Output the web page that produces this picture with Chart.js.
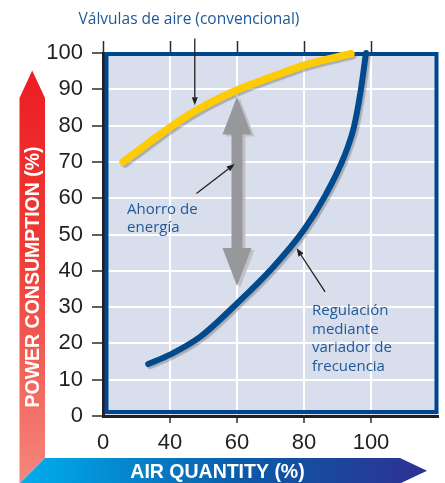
<!DOCTYPE html>
<html>
<head>
<meta charset="utf-8">
<script src="https://cdn.jsdelivr.net/npm/chart.js@4.4.1/dist/chart.umd.min.js"></script>
<style>
  html, body { margin: 0; padding: 0; background: #fff; }
</style>
</head>
<body>
<canvas id="myChart" width="445" height="483"></canvas>
<script>
// conventional air valves (yellow)
const valveAir = [26, 40, 47.5, 60, 70, 80, 94];
const valvePower = [70, 79.5, 84, 89.8, 93.3, 96.6, 99.8];
// frequency drive (blue)
const driveAir = [33.5, 40, 49, 60, 70, 80, 86.5, 92, 95, 97, 98.5];
const drivePower = [14.3, 16.9, 21.8, 31, 40.2, 51.3, 61, 71.5, 80, 90, 100];
// x axis is broken: first position is labelled "0"
const xTickValues = [20, 40, 60, 80, 100, 120];
const xTickLabels = ['0', '40', '60', '80', '100', ''];
const yTicks = [0, 10, 20, 30, 40, 50, 60, 70, 80, 90, 100];

const titleText = 'Válvulas de aire (convencional)';
const savingText = ['Ahorro de', 'energía'];
const driveText = ['Regulación', 'mediante', 'variador de', 'frecuencia'];
const yTitle = 'POWER CONSUMPTION (%)';
const xTitle = 'AIR QUANTITY (%)';

// annotation anchors in data units
const savingArrow = { x: 60, top: 88, bottom: 35.8 };
const pointerArrows = [
  [47.4, 104, 47.4, 85.6],
  [47.9, 61.3, 59.3, 69.4],
  [86.3, 34.2, 77.8, 46.2]
];
const savingTextAt = [27.2, 55.6];
const driveTextAt = [82.4, 27.8];

const textBlue = '#1f5899';

function toPts(xs, ys) {
  return xs.map((x, i) => ({ x: x, y: ys[i] }));
}

function arrowLine(ctx, x1, y1, x2, y2) {
  const ang = Math.atan2(y2 - y1, x2 - x1);
  const hl = 8, hw = 3;
  ctx.beginPath();
  ctx.moveTo(x1, y1);
  ctx.lineTo(x2 - Math.cos(ang) * hl, y2 - Math.sin(ang) * hl);
  ctx.stroke();
  ctx.beginPath();
  ctx.moveTo(x2, y2);
  ctx.lineTo(x2 - Math.cos(ang) * hl - Math.sin(ang) * hw, y2 - Math.sin(ang) * hl + Math.cos(ang) * hw);
  ctx.lineTo(x2 - Math.cos(ang) * hl + Math.sin(ang) * hw, y2 - Math.sin(ang) * hl - Math.cos(ang) * hw);
  ctx.closePath();
  ctx.fill();
}

const decor = {
  id: 'decor',
  beforeDraw(chart) {
    const a = chart.chartArea, ctx = chart.ctx;
    ctx.save();
    ctx.fillStyle = '#d8deeb';
    ctx.fillRect(a.left, a.top, a.right - a.left, a.bottom - a.top);
    ctx.restore();
  },
  beforeDatasetsDraw(chart) {
    const a = chart.chartArea, ctx = chart.ctx;
    ctx.save();
    ctx.strokeStyle = '#00468c';
    ctx.lineWidth = 4;
    ctx.strokeRect(a.left + 3.5, a.top + 1, a.right - a.left - 5, a.bottom - a.top - 5);
    ctx.restore();
  },
  beforeDatasetDraw(chart) {
    const ctx = chart.ctx;
    ctx.save();
    ctx.shadowColor = 'rgba(80,80,80,0.35)';
    ctx.shadowOffsetX = 2;
    ctx.shadowOffsetY = 2;
    ctx.shadowBlur = 1;
  },
  afterDatasetDraw(chart) {
    chart.ctx.restore();
  },
  afterDraw(chart) {
    const ctx = chart.ctx;
    const xs = chart.scales.x, ys = chart.scales.y;
    const px = v => xs.getPixelForValue(v);
    const py = v => ys.getPixelForValue(v);
    ctx.save();

    // grey double arrow (energy saving)
    const cx = px(savingArrow.x), t = py(savingArrow.top), b = py(savingArrow.bottom);
    const hl = 38, hw = 14.5, sw = 5.5;
    ctx.save();
    ctx.shadowColor = 'rgba(190,190,192,0.9)';
    ctx.shadowOffsetX = 3;
    ctx.shadowOffsetY = 2;
    ctx.fillStyle = '#97989c';
    ctx.beginPath();
    ctx.moveTo(cx, t);
    ctx.lineTo(cx + hw, t + hl);
    ctx.lineTo(cx + sw, t + hl);
    ctx.lineTo(cx + sw, b - hl);
    ctx.lineTo(cx + hw, b - hl);
    ctx.lineTo(cx, b);
    ctx.lineTo(cx - hw, b - hl);
    ctx.lineTo(cx - sw, b - hl);
    ctx.lineTo(cx - sw, t + hl);
    ctx.lineTo(cx - hw, t + hl);
    ctx.closePath();
    ctx.fill();
    ctx.restore();

    // thin pointer arrows
    ctx.strokeStyle = '#231f20';
    ctx.fillStyle = '#231f20';
    ctx.lineWidth = 1.3;
    pointerArrows.forEach(p => arrowLine(ctx, px(p[0]), py(p[1]), px(p[2]), py(p[3])));

    // texts
    ctx.fillStyle = textBlue;
    ctx.font = '15px "Open Sans"';
    ctx.textAlign = 'left';
    ctx.textBaseline = 'alphabetic';
    savingText.forEach((s, i) => ctx.fillText(s, px(savingTextAt[0]), py(savingTextAt[1]) + i * 18));
    driveText.forEach((s, i) => ctx.fillText(s, px(driveTextAt[0]), py(driveTextAt[1]) + i * 18.5));
    ctx.textAlign = 'center';
    ctx.font = '15.5px "Open Sans"';
    ctx.fillText(titleText, 189, 24);

    // red vertical axis arrow
    let g = ctx.createLinearGradient(0, 70, 0, 483);
    g.addColorStop(0, '#ed1c24');
    g.addColorStop(0.45, '#ef3e36');
    g.addColorStop(1, '#f4877d');
    ctx.fillStyle = g;
    ctx.beginPath();
    ctx.moveTo(19.5, 98);
    ctx.lineTo(32.2, 70.5);
    ctx.lineTo(45, 98);
    ctx.lineTo(45, 458);
    ctx.lineTo(19.5, 483.5);
    ctx.closePath();
    ctx.fill();

    // blue horizontal axis arrow
    g = ctx.createLinearGradient(20, 0, 427, 0);
    g.addColorStop(0, '#00aeef');
    g.addColorStop(0.55, '#0b5aa8');
    g.addColorStop(1, '#2e3192');
    ctx.fillStyle = g;
    ctx.beginPath();
    ctx.moveTo(19.5, 483.5);
    ctx.lineTo(45, 458);
    ctx.lineTo(400, 458);
    ctx.lineTo(427, 470.7);
    ctx.lineTo(400, 483.5);
    ctx.closePath();
    ctx.fill();

    // axis titles
    ctx.fillStyle = '#ffffff';
    ctx.font = 'bold 19.5px "Liberation Sans"';
    ctx.textAlign = 'center';
    ctx.textBaseline = 'middle';
    ctx.fillText(xTitle, 217.5, 472.5);
    ctx.save();
    ctx.translate(33, 277);
    ctx.rotate(-Math.PI / 2);
    ctx.fillText(yTitle, 0, 1);
    ctx.restore();

    ctx.restore();
  }
};

const hideEnds = c => (c.tick && (c.tick.value === 120)) ? 'rgba(0,0,0,0)' : '#2b2b2b';

const ctx = document.getElementById('myChart').getContext('2d');
const chart = new Chart(ctx, {
  type: 'line',
  data: {
    datasets: [{
      label: 'Válvulas de aire',
      data: toPts(valveAir, valvePower),
      borderColor: '#ffcb05',
      borderWidth: 7.5,
      borderCapStyle: 'round',
      borderJoinStyle: 'round',
      cubicInterpolationMode: 'monotone',
      pointRadius: 0,
      clip: false
    }, {
      label: 'Variador de frecuencia',
      data: toPts(driveAir, drivePower),
      borderColor: '#004a8d',
      borderWidth: 6,
      borderCapStyle: 'round',
      borderJoinStyle: 'round',
      cubicInterpolationMode: 'monotone',
      pointRadius: 0,
      clip: false
    }]
  },
  options: {
    responsive: false,
    animation: false,
    devicePixelRatio: 1,
    layout: { padding: { left: 45, top: 41, right: 7, bottom: 0 } },
    plugins: { legend: { display: false }, tooltip: { enabled: false } },
    scales: {
      x: {
        type: 'linear',
        position: 'bottom',
        min: 20,
        max: 120,
        afterBuildTicks: s => { s.ticks = xTickValues.map(v => ({ value: v })); },
        afterFit: s => { s.height = 67; },
        ticks: {
          callback: v => xTickLabels[xTickValues.indexOf(v)],
          font: { family: 'Liberation Sans', size: 22 },
          color: '#231f20',
          padding: 7,
          maxRotation: 0
        },
        grid: {
          color: '#ffffff',
          lineWidth: 2,
          tickColor: c => (c.tick && (c.tick.value === 120 || c.tick.value === 20)) ? 'rgba(0,0,0,0)' : '#2b2b2b',
          tickLength: 7,
          tickWidth: 1.5
        },
        border: { color: '#231f20', width: 3 }
      },
      xTop: {
        type: 'linear',
        axis: 'x',
        position: 'top',
        min: 20,
        max: 120,
        afterBuildTicks: s => { s.ticks = xTickValues.map(v => ({ value: v })); },
        afterFit: s => { s.height = 12; },
        ticks: { display: false },
        grid: {
          drawOnChartArea: false,
          tickColor: hideEnds,
          tickLength: 12,
          tickWidth: 1.5
        },
        border: { display: false }
      },
      y: {
        min: 0,
        max: 100,
        afterBuildTicks: s => { s.ticks = yTicks.map(v => ({ value: v })); },
        afterFit: s => { s.width = 58; },
        ticks: {
          font: { family: 'Liberation Sans', size: 22 },
          color: '#231f20',
          padding: 9
        },
        grid: {
          color: '#ffffff',
          lineWidth: 2,
          tickColor: '#2b2b2b',
          tickLength: 11,
          tickWidth: 1.5
        },
        border: { color: '#231f20', width: 3 }
      }
    }
  },
  plugins: [decor]
});
</script>
</body>
</html>
